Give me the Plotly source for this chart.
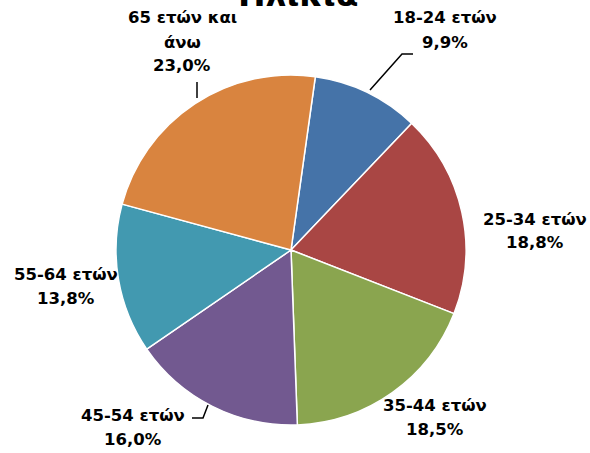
import plotly.graph_objects as go

W, H = 590, 453

title_text = "Ηλικία"
age_groups = ["18-24 ετών", "25-34 ετών", "35-44 ετών", "45-54 ετών", "55-64 ετών", "65 ετών και άνω"]
shares = [9.9, 18.8, 18.5, 16.0, 13.8, 23.0]
colors = ["#4573A8", "#A94644", "#8AA54F", "#725990", "#4299B0", "#D9843F"]

# label text lines (category name may wrap) - percentages come from shares
label_lines = [
    ["18-24 ετών"],
    ["25-34 ετών"],
    ["35-44 ετών"],
    ["45-54 ετών"],
    ["55-64 ετών"],
    ["65 ετών και", "άνω"],
]
# layout: centre x and first-line y (pixels) for each label block
label_pos = [(445, 18), (535, 219), (435, 405), (133, 415), (66, 274), (182, 18)]
line_gap = 24.0


def px(x):
    return x / W


def py(y):
    return 1 - y / H


def fmt(v):
    return f"{v:.1f}%".replace(".", ",")


cx, cy, r = 291, 250, 175

fig = go.Figure(go.Pie(
    labels=age_groups,
    values=shares,
    sort=False,
    direction="clockwise",
    rotation=8,
    marker=dict(colors=colors, line=dict(color="white", width=1.5)),
    textinfo="none",
    hoverinfo="label+percent",
    showlegend=False,
    domain=dict(x=[px(cx - r), px(cx + r)], y=[py(cy + r), py(cy - r)]),
))

font = dict(family="DejaVu Sans, Verdana, sans-serif", size=16.5, color="black")
annotations = []
for lines, v, (x0, y0) in zip(label_lines, shares, label_pos):
    for i, t in enumerate(lines + [fmt(v)]):
        annotations.append(dict(
            x=px(x0), y=py(y0 + i * line_gap), xref="paper", yref="paper",
            text=f"<b>{t}</b>", showarrow=False, font=font,
            xanchor="center", yanchor="middle",
        ))

annotations.append(dict(
    x=px(298), y=py(-5), xref="paper", yref="paper",
    text=f"<b>{title_text}</b>", showarrow=False,
    font=dict(family="DejaVu Sans, Verdana, sans-serif", size=33, color="black"),
    xanchor="center", yanchor="middle",
))

# leader lines (pixel paths)
leaders = [
    [(413, 54), (402, 54), (370, 90)],
    [(197, 82), (197, 98)],
    [(192, 418), (203, 418), (208, 405)],
]
shapes = []
for pts in leaders:
    path = "M " + " L ".join(f"{px(x)},{py(y)}" for x, y in pts)
    shapes.append(dict(type="path", path=path, xref="paper", yref="paper",
                       line=dict(color="black", width=1.5)))

fig.update_layout(
    width=W, height=H,
    margin=dict(l=0, r=0, t=0, b=0),
    paper_bgcolor="white",
    plot_bgcolor="white",
    annotations=annotations,
    shapes=shapes,
)

fig.write_html(
    "out.html",
    config={"displayModeBar": False},
    post_script="document.body.style.margin='0px';document.body.style.overflow='hidden';",
)
